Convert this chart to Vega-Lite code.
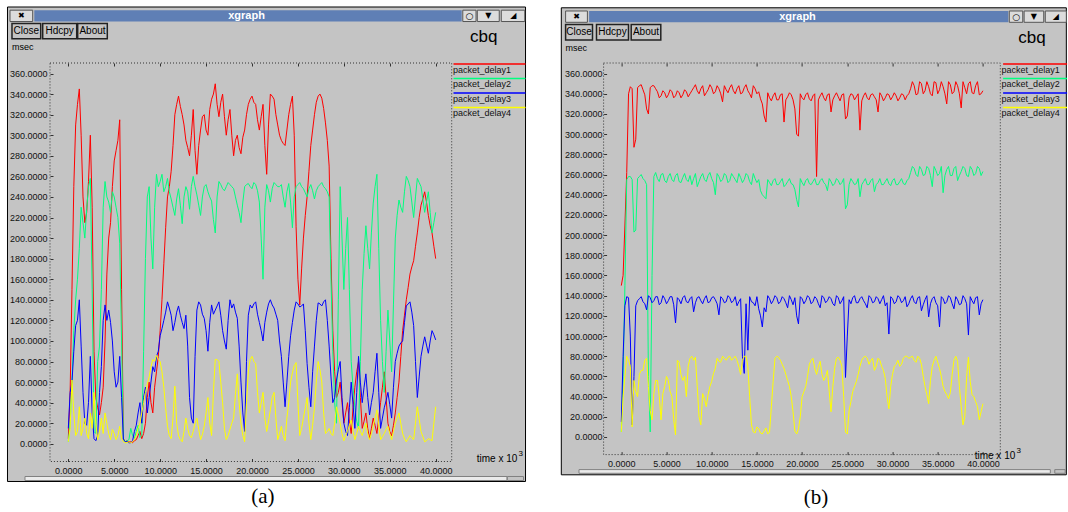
{
"$schema": "https://vega.github.io/schema/vega-lite/v6.json",
"background": "#ffffff",
"padding": {"left": 6, "top": 6, "right": 0, "bottom": 0},
"bounds": "flush",
"spacing": 151.6,
"config": {"font": "Liberation Sans Narrow, Liberation Sans, sans-serif", "view": {"stroke": null}},
"resolve": {"scale": {"x": "independent", "y": "independent", "color": "independent"}, "legend": {"color": "independent"}},
"datasets": {
"a": [
{"t":0.0,"packet_delay1":5,"packet_delay2":2,"packet_delay3":15,"packet_delay4":2},
{"t":0.4,"packet_delay1":150,"packet_delay2":60,"packet_delay3":60,"packet_delay4":62},
{"t":0.8,"packet_delay1":310,"packet_delay2":140,"packet_delay3":115,"packet_delay4":8},
{"t":1.2,"packet_delay1":345,"packet_delay2":190,"packet_delay3":140,"packet_delay4":36},
{"t":1.6,"packet_delay1":240,"packet_delay2":215,"packet_delay3":50,"packet_delay4":15},
{"t":2.0,"packet_delay1":225,"packet_delay2":228,"packet_delay3":18,"packet_delay4":10},
{"t":2.4,"packet_delay1":300,"packet_delay2":258,"packet_delay3":85,"packet_delay4":30},
{"t":2.8,"packet_delay1":90,"packet_delay2":12,"packet_delay3":5,"packet_delay4":50},
{"t":3.2,"packet_delay1":35,"packet_delay2":80,"packet_delay3":8,"packet_delay4":4},
{"t":3.6,"packet_delay1":40,"packet_delay2":150,"packet_delay3":75,"packet_delay4":25},
{"t":4.0,"packet_delay1":100,"packet_delay2":255,"packet_delay3":135,"packet_delay4":30},
{"t":4.4,"packet_delay1":200,"packet_delay2":235,"packet_delay3":130,"packet_delay4":10},
{"t":4.8,"packet_delay1":250,"packet_delay2":245,"packet_delay3":100,"packet_delay4":14},
{"t":5.2,"packet_delay1":285,"packet_delay2":230,"packet_delay3":55,"packet_delay4":4},
{"t":5.6,"packet_delay1":315,"packet_delay2":195,"packet_delay3":85,"packet_delay4":17},
{"t":6.0,"packet_delay1":5,"packet_delay2":5,"packet_delay3":4,"packet_delay4":2},
{"t":6.4,"packet_delay1":3,"packet_delay2":3,"packet_delay3":2,"packet_delay4":1},
{"t":6.8,"packet_delay1":2,"packet_delay2":15,"packet_delay3":1,"packet_delay4":1},
{"t":7.2,"packet_delay1":3,"packet_delay2":5,"packet_delay3":12,"packet_delay4":4},
{"t":7.6,"packet_delay1":8,"packet_delay2":18,"packet_delay3":30,"packet_delay4":15},
{"t":8.0,"packet_delay1":5,"packet_delay2":8,"packet_delay3":20,"packet_delay4":30},
{"t":8.4,"packet_delay1":20,"packet_delay2":180,"packet_delay3":55,"packet_delay4":50},
{"t":8.8,"packet_delay1":60,"packet_delay2":250,"packet_delay3":45,"packet_delay4":65},
{"t":9.2,"packet_delay1":30,"packet_delay2":170,"packet_delay3":75,"packet_delay4":82},
{"t":9.6,"packet_delay1":70,"packet_delay2":262,"packet_delay3":85,"packet_delay4":86},
{"t":10.0,"packet_delay1":110,"packet_delay2":255,"packet_delay3":105,"packet_delay4":80},
{"t":10.4,"packet_delay1":175,"packet_delay2":245,"packet_delay3":120,"packet_delay4":55},
{"t":10.8,"packet_delay1":240,"packet_delay2":258,"packet_delay3":138,"packet_delay4":17},
{"t":11.2,"packet_delay1":265,"packet_delay2":238,"packet_delay3":125,"packet_delay4":5},
{"t":11.6,"packet_delay1":320,"packet_delay2":222,"packet_delay3":118,"packet_delay4":56},
{"t":12.0,"packet_delay1":338,"packet_delay2":248,"packet_delay3":134,"packet_delay4":8},
{"t":12.4,"packet_delay1":320,"packet_delay2":214,"packet_delay3":118,"packet_delay4":2},
{"t":12.8,"packet_delay1":295,"packet_delay2":250,"packet_delay3":125,"packet_delay4":25},
{"t":13.2,"packet_delay1":280,"packet_delay2":228,"packet_delay3":45,"packet_delay4":8},
{"t":13.6,"packet_delay1":325,"packet_delay2":260,"packet_delay3":20,"packet_delay4":12},
{"t":14.0,"packet_delay1":262,"packet_delay2":242,"packet_delay3":130,"packet_delay4":25},
{"t":14.4,"packet_delay1":305,"packet_delay2":222,"packet_delay3":135,"packet_delay4":4},
{"t":14.8,"packet_delay1":320,"packet_delay2":250,"packet_delay3":122,"packet_delay4":17},
{"t":15.2,"packet_delay1":300,"packet_delay2":245,"packet_delay3":90,"packet_delay4":45},
{"t":15.6,"packet_delay1":335,"packet_delay2":236,"packet_delay3":135,"packet_delay4":8},
{"t":16.0,"packet_delay1":350,"packet_delay2":205,"packet_delay3":130,"packet_delay4":82},
{"t":16.4,"packet_delay1":318,"packet_delay2":255,"packet_delay3":138,"packet_delay4":80},
{"t":16.8,"packet_delay1":340,"packet_delay2":248,"packet_delay3":110,"packet_delay4":40},
{"t":17.2,"packet_delay1":300,"packet_delay2":250,"packet_delay3":92,"packet_delay4":4},
{"t":17.6,"packet_delay1":325,"packet_delay2":252,"packet_delay3":140,"packet_delay4":14},
{"t":18.0,"packet_delay1":280,"packet_delay2":248,"packet_delay3":136,"packet_delay4":25},
{"t":18.4,"packet_delay1":300,"packet_delay2":232,"packet_delay3":122,"packet_delay4":68},
{"t":18.8,"packet_delay1":282,"packet_delay2":215,"packet_delay3":60,"packet_delay4":20},
{"t":19.2,"packet_delay1":305,"packet_delay2":250,"packet_delay3":12,"packet_delay4":2},
{"t":19.6,"packet_delay1":330,"packet_delay2":253,"packet_delay3":125,"packet_delay4":70},
{"t":20.0,"packet_delay1":338,"packet_delay2":248,"packet_delay3":132,"packet_delay4":85},
{"t":20.4,"packet_delay1":330,"packet_delay2":252,"packet_delay3":138,"packet_delay4":78},
{"t":20.8,"packet_delay1":305,"packet_delay2":235,"packet_delay3":118,"packet_delay4":30},
{"t":21.2,"packet_delay1":330,"packet_delay2":160,"packet_delay3":100,"packet_delay4":50},
{"t":21.6,"packet_delay1":262,"packet_delay2":252,"packet_delay3":128,"packet_delay4":12},
{"t":22.0,"packet_delay1":340,"packet_delay2":235,"packet_delay3":140,"packet_delay4":33},
{"t":22.4,"packet_delay1":335,"packet_delay2":254,"packet_delay3":132,"packet_delay4":50},
{"t":22.8,"packet_delay1":310,"packet_delay2":250,"packet_delay3":120,"packet_delay4":4},
{"t":23.2,"packet_delay1":295,"packet_delay2":252,"packet_delay3":85,"packet_delay4":17},
{"t":23.6,"packet_delay1":290,"packet_delay2":230,"packet_delay3":36,"packet_delay4":3},
{"t":24.0,"packet_delay1":320,"packet_delay2":253,"packet_delay3":85,"packet_delay4":40},
{"t":24.4,"packet_delay1":338,"packet_delay2":210,"packet_delay3":118,"packet_delay4":69},
{"t":24.8,"packet_delay1":211,"packet_delay2":250,"packet_delay3":138,"packet_delay4":79},
{"t":25.2,"packet_delay1":135,"packet_delay2":254,"packet_delay3":133,"packet_delay4":8},
{"t":25.6,"packet_delay1":200,"packet_delay2":248,"packet_delay3":136,"packet_delay4":25},
{"t":26.0,"packet_delay1":240,"packet_delay2":240,"packet_delay3":78,"packet_delay4":45},
{"t":26.4,"packet_delay1":290,"packet_delay2":252,"packet_delay3":36,"packet_delay4":4},
{"t":26.8,"packet_delay1":320,"packet_delay2":238,"packet_delay3":95,"packet_delay4":35},
{"t":27.2,"packet_delay1":338,"packet_delay2":250,"packet_delay3":137,"packet_delay4":80},
{"t":27.6,"packet_delay1":336,"packet_delay2":254,"packet_delay3":134,"packet_delay4":60},
{"t":28.0,"packet_delay1":312,"packet_delay2":248,"packet_delay3":140,"packet_delay4":10},
{"t":28.4,"packet_delay1":270,"packet_delay2":240,"packet_delay3":95,"packet_delay4":15},
{"t":28.8,"packet_delay1":110,"packet_delay2":90,"packet_delay3":40,"packet_delay4":8},
{"t":29.2,"packet_delay1":45,"packet_delay2":20,"packet_delay3":62,"packet_delay4":36},
{"t":29.6,"packet_delay1":60,"packet_delay2":250,"packet_delay3":80,"packet_delay4":20},
{"t":30.0,"packet_delay1":20,"packet_delay2":150,"packet_delay3":20,"packet_delay4":3},
{"t":30.4,"packet_delay1":40,"packet_delay2":220,"packet_delay3":8,"packet_delay4":12},
{"t":30.8,"packet_delay1":10,"packet_delay2":80,"packet_delay3":60,"packet_delay4":23},
{"t":31.2,"packet_delay1":55,"packet_delay2":35,"packet_delay3":15,"packet_delay4":4},
{"t":31.6,"packet_delay1":80,"packet_delay2":15,"packet_delay3":85,"packet_delay4":17},
{"t":32.0,"packet_delay1":15,"packet_delay2":150,"packet_delay3":40,"packet_delay4":8},
{"t":32.4,"packet_delay1":30,"packet_delay2":212,"packet_delay3":68,"packet_delay4":20},
{"t":32.8,"packet_delay1":5,"packet_delay2":170,"packet_delay3":28,"packet_delay4":4},
{"t":33.2,"packet_delay1":25,"packet_delay2":234,"packet_delay3":50,"packet_delay4":17},
{"t":33.6,"packet_delay1":10,"packet_delay2":262,"packet_delay3":88,"packet_delay4":33},
{"t":34.0,"packet_delay1":40,"packet_delay2":120,"packet_delay3":15,"packet_delay4":4},
{"t":34.4,"packet_delay1":70,"packet_delay2":50,"packet_delay3":35,"packet_delay4":10},
{"t":34.8,"packet_delay1":20,"packet_delay2":130,"packet_delay3":50,"packet_delay4":17},
{"t":35.2,"packet_delay1":8,"packet_delay2":70,"packet_delay3":25,"packet_delay4":4},
{"t":35.6,"packet_delay1":30,"packet_delay2":200,"packet_delay3":80,"packet_delay4":20},
{"t":36.0,"packet_delay1":60,"packet_delay2":237,"packet_delay3":95,"packet_delay4":30},
{"t":36.4,"packet_delay1":110,"packet_delay2":225,"packet_delay3":100,"packet_delay4":10},
{"t":36.8,"packet_delay1":140,"packet_delay2":260,"packet_delay3":134,"packet_delay4":2},
{"t":37.2,"packet_delay1":165,"packet_delay2":250,"packet_delay3":138,"packet_delay4":8},
{"t":37.6,"packet_delay1":178,"packet_delay2":220,"packet_delay3":115,"packet_delay4":4},
{"t":38.0,"packet_delay1":205,"packet_delay2":258,"packet_delay3":45,"packet_delay4":36},
{"t":38.4,"packet_delay1":232,"packet_delay2":250,"packet_delay3":85,"packet_delay4":12},
{"t":38.8,"packet_delay1":245,"packet_delay2":225,"packet_delay3":104,"packet_delay4":2},
{"t":39.2,"packet_delay1":222,"packet_delay2":245,"packet_delay3":88,"packet_delay4":5},
{"t":39.6,"packet_delay1":205,"packet_delay2":205,"packet_delay3":110,"packet_delay4":3},
{"t":40.0,"packet_delay1":180,"packet_delay2":225,"packet_delay3":101,"packet_delay4":36},
{"t":0.2,"packet_delay1":50,"packet_delay2":20,"packet_delay3":50,"packet_delay4":15},
{"t":0.6,"packet_delay1":250,"packet_delay2":110,"packet_delay3":90,"packet_delay4":30},
{"t":1.0,"packet_delay1":330,"packet_delay2":160,"packet_delay3":120,"packet_delay4":12},
{"t":1.4,"packet_delay1":300,"packet_delay2":230,"packet_delay3":95,"packet_delay4":8},
{"t":1.8,"packet_delay1":215,"packet_delay2":200,"packet_delay3":20,"packet_delay4":25},
{"t":2.2,"packet_delay1":255,"packet_delay2":250,"packet_delay3":40,"packet_delay4":5},
{"t":2.6,"packet_delay1":230,"packet_delay2":150,"packet_delay3":30,"packet_delay4":15},
{"t":3.0,"packet_delay1":45,"packet_delay2":10,"packet_delay3":3,"packet_delay4":20},
{"t":3.4,"packet_delay1":28,"packet_delay2":95,"packet_delay3":50,"packet_delay4":12},
{"t":3.8,"packet_delay1":55,"packet_delay2":230,"packet_delay3":120,"packet_delay4":10},
{"t":4.2,"packet_delay1":165,"packet_delay2":240,"packet_delay3":120,"packet_delay4":20},
{"t":4.6,"packet_delay1":215,"packet_delay2":225,"packet_delay3":118,"packet_delay4":4},
{"t":5.0,"packet_delay1":275,"packet_delay2":240,"packet_delay3":70,"packet_delay4":10},
{"t":5.4,"packet_delay1":295,"packet_delay2":220,"packet_delay3":60,"packet_delay4":8},
{"t":5.8,"packet_delay1":150,"packet_delay2":100,"packet_delay3":45,"packet_delay4":5},
{"t":6.2,"packet_delay1":2,"packet_delay2":2,"packet_delay3":2,"packet_delay4":1},
{"t":6.6,"packet_delay1":2,"packet_delay2":4,"packet_delay3":1,"packet_delay4":2},
{"t":7.0,"packet_delay1":1,"packet_delay2":8,"packet_delay3":3,"packet_delay4":2},
{"t":7.4,"packet_delay1":4,"packet_delay2":12,"packet_delay3":18,"packet_delay4":8},
{"t":7.8,"packet_delay1":12,"packet_delay2":6,"packet_delay3":40,"packet_delay4":20},
{"t":8.2,"packet_delay1":10,"packet_delay2":90,"packet_delay3":45,"packet_delay4":40},
{"t":8.6,"packet_delay1":45,"packet_delay2":240,"packet_delay3":30,"packet_delay4":58},
{"t":9.0,"packet_delay1":40,"packet_delay2":200,"packet_delay3":60,"packet_delay4":75},
{"t":9.4,"packet_delay1":55,"packet_delay2":230,"packet_delay3":70,"packet_delay4":80},
{"t":9.8,"packet_delay1":85,"packet_delay2":250,"packet_delay3":90,"packet_delay4":82},
{"t":10.2,"packet_delay1":140,"packet_delay2":262,"packet_delay3":112,"packet_delay4":70},
{"t":10.6,"packet_delay1":210,"packet_delay2":250,"packet_delay3":128,"packet_delay4":35},
{"t":11.0,"packet_delay1":250,"packet_delay2":245,"packet_delay3":132,"packet_delay4":8},
{"t":11.4,"packet_delay1":290,"packet_delay2":230,"packet_delay3":110,"packet_delay4":25},
{"t":11.8,"packet_delay1":330,"packet_delay2":238,"packet_delay3":128,"packet_delay4":20},
{"t":12.2,"packet_delay1":328,"packet_delay2":232,"packet_delay3":125,"packet_delay4":4},
{"t":12.6,"packet_delay1":310,"packet_delay2":240,"packet_delay3":112,"packet_delay4":12},
{"t":13.0,"packet_delay1":288,"packet_delay2":245,"packet_delay3":95,"packet_delay4":15},
{"t":13.4,"packet_delay1":300,"packet_delay2":250,"packet_delay3":25,"packet_delay4":6},
{"t":13.8,"packet_delay1":285,"packet_delay2":250,"packet_delay3":85,"packet_delay4":20},
{"t":14.2,"packet_delay1":290,"packet_delay2":232,"packet_delay3":138,"packet_delay4":14},
{"t":14.6,"packet_delay1":318,"packet_delay2":240,"packet_delay3":126,"packet_delay4":9},
{"t":15.0,"packet_delay1":305,"packet_delay2":252,"packet_delay3":110,"packet_delay4":30},
{"t":15.4,"packet_delay1":325,"packet_delay2":240,"packet_delay3":118,"packet_delay4":20},
{"t":15.8,"packet_delay1":340,"packet_delay2":218,"packet_delay3":126,"packet_delay4":50},
{"t":16.2,"packet_delay1":330,"packet_delay2":240,"packet_delay3":134,"packet_delay4":82},
{"t":16.6,"packet_delay1":332,"packet_delay2":252,"packet_delay3":125,"packet_delay4":60},
{"t":17.0,"packet_delay1":318,"packet_delay2":246,"packet_delay3":100,"packet_delay4":15},
{"t":17.4,"packet_delay1":315,"packet_delay2":254,"packet_delay3":120,"packet_delay4":8},
{"t":17.8,"packet_delay1":300,"packet_delay2":250,"packet_delay3":132,"packet_delay4":20},
{"t":18.2,"packet_delay1":295,"packet_delay2":240,"packet_delay3":128,"packet_delay4":48},
{"t":18.6,"packet_delay1":288,"packet_delay2":225,"packet_delay3":95,"packet_delay4":40},
{"t":19.0,"packet_delay1":298,"packet_delay2":235,"packet_delay3":30,"packet_delay4":8},
{"t":19.4,"packet_delay1":320,"packet_delay2":252,"packet_delay3":80,"packet_delay4":40},
{"t":19.8,"packet_delay1":335,"packet_delay2":250,"packet_delay3":135,"packet_delay4":82},
{"t":20.2,"packet_delay1":332,"packet_delay2":254,"packet_delay3":136,"packet_delay4":80},
{"t":20.6,"packet_delay1":315,"packet_delay2":246,"packet_delay3":126,"packet_delay4":50},
{"t":21.0,"packet_delay1":318,"packet_delay2":200,"packet_delay3":110,"packet_delay4":40},
{"t":21.4,"packet_delay1":290,"packet_delay2":230,"packet_delay3":118,"packet_delay4":25},
{"t":21.8,"packet_delay1":310,"packet_delay2":246,"packet_delay3":136,"packet_delay4":22},
{"t":22.2,"packet_delay1":338,"packet_delay2":248,"packet_delay3":135,"packet_delay4":45},
{"t":22.6,"packet_delay1":320,"packet_delay2":252,"packet_delay3":126,"packet_delay4":25},
{"t":23.0,"packet_delay1":300,"packet_delay2":250,"packet_delay3":100,"packet_delay4":10},
{"t":23.4,"packet_delay1":292,"packet_delay2":240,"packet_delay3":60,"packet_delay4":8},
{"t":23.8,"packet_delay1":305,"packet_delay2":245,"packet_delay3":60,"packet_delay4":25},
{"t":24.2,"packet_delay1":330,"packet_delay2":235,"packet_delay3":105,"packet_delay4":60},
{"t":24.6,"packet_delay1":300,"packet_delay2":240,"packet_delay3":130,"packet_delay4":76},
{"t":25.0,"packet_delay1":160,"packet_delay2":252,"packet_delay3":136,"packet_delay4":40},
{"t":25.4,"packet_delay1":170,"packet_delay2":250,"packet_delay3":134,"packet_delay4":15},
{"t":25.8,"packet_delay1":222,"packet_delay2":244,"packet_delay3":110,"packet_delay4":35},
{"t":26.2,"packet_delay1":265,"packet_delay2":248,"packet_delay3":55,"packet_delay4":20},
{"t":26.6,"packet_delay1":305,"packet_delay2":246,"packet_delay3":70,"packet_delay4":18},
{"t":27.0,"packet_delay1":332,"packet_delay2":246,"packet_delay3":120,"packet_delay4":60},
{"t":27.4,"packet_delay1":340,"packet_delay2":252,"packet_delay3":136,"packet_delay4":72},
{"t":27.8,"packet_delay1":326,"packet_delay2":250,"packet_delay3":138,"packet_delay4":30},
{"t":28.2,"packet_delay1":295,"packet_delay2":245,"packet_delay3":120,"packet_delay4":12},
{"t":28.6,"packet_delay1":180,"packet_delay2":160,"packet_delay3":65,"packet_delay4":10},
{"t":29.0,"packet_delay1":70,"packet_delay2":40,"packet_delay3":45,"packet_delay4":20},
{"t":29.4,"packet_delay1":50,"packet_delay2":140,"packet_delay3":72,"packet_delay4":28},
{"t":29.8,"packet_delay1":40,"packet_delay2":200,"packet_delay3":45,"packet_delay4":10},
{"t":30.2,"packet_delay1":30,"packet_delay2":190,"packet_delay3":12,"packet_delay4":8},
{"t":30.6,"packet_delay1":22,"packet_delay2":150,"packet_delay3":35,"packet_delay4":18},
{"t":31.0,"packet_delay1":35,"packet_delay2":55,"packet_delay3":38,"packet_delay4":12},
{"t":31.4,"packet_delay1":70,"packet_delay2":22,"packet_delay3":50,"packet_delay4":10},
{"t":31.8,"packet_delay1":45,"packet_delay2":80,"packet_delay3":60,"packet_delay4":12},
{"t":32.2,"packet_delay1":22,"packet_delay2":185,"packet_delay3":55,"packet_delay4":14},
{"t":32.6,"packet_delay1":15,"packet_delay2":190,"packet_delay3":45,"packet_delay4":10},
{"t":33.0,"packet_delay1":15,"packet_delay2":205,"packet_delay3":40,"packet_delay4":10},
{"t":33.4,"packet_delay1":18,"packet_delay2":250,"packet_delay3":70,"packet_delay4":25},
{"t":33.8,"packet_delay1":25,"packet_delay2":190,"packet_delay3":50,"packet_delay4":18},
{"t":34.2,"packet_delay1":55,"packet_delay2":80,"packet_delay3":25,"packet_delay4":7},
{"t":34.6,"packet_delay1":45,"packet_delay2":90,"packet_delay3":42,"packet_delay4":14},
{"t":35.0,"packet_delay1":12,"packet_delay2":100,"packet_delay3":38,"packet_delay4":10},
{"t":35.4,"packet_delay1":18,"packet_delay2":135,"packet_delay3":55,"packet_delay4":12},
{"t":35.8,"packet_delay1":45,"packet_delay2":222,"packet_delay3":88,"packet_delay4":25},
{"t":36.2,"packet_delay1":85,"packet_delay2":230,"packet_delay3":98,"packet_delay4":20},
{"t":36.6,"packet_delay1":125,"packet_delay2":245,"packet_delay3":118,"packet_delay4":5},
{"t":37.0,"packet_delay1":152,"packet_delay2":256,"packet_delay3":136,"packet_delay4":5},
{"t":37.4,"packet_delay1":172,"packet_delay2":235,"packet_delay3":128,"packet_delay4":6},
{"t":37.8,"packet_delay1":192,"packet_delay2":240,"packet_delay3":80,"packet_delay4":20},
{"t":38.2,"packet_delay1":220,"packet_delay2":254,"packet_delay3":65,"packet_delay4":24},
{"t":38.6,"packet_delay1":238,"packet_delay2":238,"packet_delay3":95,"packet_delay4":7},
{"t":39.0,"packet_delay1":235,"packet_delay2":235,"packet_delay3":96,"packet_delay4":3},
{"t":39.4,"packet_delay1":212,"packet_delay2":225,"packet_delay3":100,"packet_delay4":4},
{"t":39.8,"packet_delay1":192,"packet_delay2":215,"packet_delay3":106,"packet_delay4":20}
],
"b": [
{"t":0.0,"packet_delay1":150,"packet_delay2":5,"packet_delay3":15,"packet_delay4":5},
{"t":0.4,"packet_delay1":210,"packet_delay2":150,"packet_delay3":130,"packet_delay4":60},
{"t":0.8,"packet_delay1":340,"packet_delay2":258,"packet_delay3":138,"packet_delay4":76},
{"t":1.2,"packet_delay1":345,"packet_delay2":255,"packet_delay3":12,"packet_delay4":10},
{"t":1.6,"packet_delay1":295,"packet_delay2":205,"packet_delay3":130,"packet_delay4":45},
{"t":2.0,"packet_delay1":348,"packet_delay2":258,"packet_delay3":137,"packet_delay4":62},
{"t":2.4,"packet_delay1":344,"packet_delay2":256,"packet_delay3":134,"packet_delay4":66},
{"t":2.8,"packet_delay1":325,"packet_delay2":250,"packet_delay3":126,"packet_delay4":78},
{"t":3.2,"packet_delay1":346,"packet_delay2":5,"packet_delay3":138,"packet_delay4":26},
{"t":3.6,"packet_delay1":348,"packet_delay2":258,"packet_delay3":135,"packet_delay4":43},
{"t":4.0,"packet_delay1":342,"packet_delay2":256,"packet_delay3":139,"packet_delay4":56},
{"t":4.4,"packet_delay1":338,"packet_delay2":260,"packet_delay3":133,"packet_delay4":17},
{"t":4.8,"packet_delay1":341,"packet_delay2":254,"packet_delay3":137,"packet_delay4":50},
{"t":5.2,"packet_delay1":339,"packet_delay2":258,"packet_delay3":135,"packet_delay4":56},
{"t":5.6,"packet_delay1":342,"packet_delay2":255,"packet_delay3":139,"packet_delay4":40},
{"t":6.0,"packet_delay1":338,"packet_delay2":259,"packet_delay3":113,"packet_delay4":2},
{"t":6.4,"packet_delay1":341,"packet_delay2":253,"packet_delay3":136,"packet_delay4":74},
{"t":6.8,"packet_delay1":339,"packet_delay2":257,"packet_delay3":138,"packet_delay4":56},
{"t":7.2,"packet_delay1":342,"packet_delay2":255,"packet_delay3":134,"packet_delay4":40},
{"t":7.6,"packet_delay1":340,"packet_delay2":259,"packet_delay3":137,"packet_delay4":78},
{"t":8.0,"packet_delay1":346,"packet_delay2":256,"packet_delay3":124,"packet_delay4":76},
{"t":8.4,"packet_delay1":343,"packet_delay2":248,"packet_delay3":138,"packet_delay4":50},
{"t":8.8,"packet_delay1":345,"packet_delay2":258,"packet_delay3":135,"packet_delay4":12},
{"t":9.2,"packet_delay1":338,"packet_delay2":255,"packet_delay3":137,"packet_delay4":38},
{"t":9.6,"packet_delay1":344,"packet_delay2":259,"packet_delay3":133,"packet_delay4":42},
{"t":10.0,"packet_delay1":346,"packet_delay2":256,"packet_delay3":138,"packet_delay4":55},
{"t":10.4,"packet_delay1":342,"packet_delay2":240,"packet_delay3":136,"packet_delay4":68},
{"t":10.8,"packet_delay1":345,"packet_delay2":258,"packet_delay3":121,"packet_delay4":75},
{"t":11.2,"packet_delay1":332,"packet_delay2":255,"packet_delay3":137,"packet_delay4":80},
{"t":11.6,"packet_delay1":344,"packet_delay2":259,"packet_delay3":134,"packet_delay4":76},
{"t":12.0,"packet_delay1":346,"packet_delay2":254,"packet_delay3":138,"packet_delay4":80},
{"t":12.4,"packet_delay1":343,"packet_delay2":258,"packet_delay3":135,"packet_delay4":78},
{"t":12.8,"packet_delay1":345,"packet_delay2":252,"packet_delay3":130,"packet_delay4":76},
{"t":13.2,"packet_delay1":340,"packet_delay2":257,"packet_delay3":137,"packet_delay4":62},
{"t":13.6,"packet_delay1":346,"packet_delay2":255,"packet_delay3":63,"packet_delay4":80},
{"t":14.0,"packet_delay1":343,"packet_delay2":259,"packet_delay3":86,"packet_delay4":70},
{"t":14.4,"packet_delay1":336,"packet_delay2":250,"packet_delay3":134,"packet_delay4":12},
{"t":14.8,"packet_delay1":345,"packet_delay2":256,"packet_delay3":130,"packet_delay4":4},
{"t":15.2,"packet_delay1":342,"packet_delay2":255,"packet_delay3":127,"packet_delay4":8},
{"t":15.6,"packet_delay1":330,"packet_delay2":240,"packet_delay3":109,"packet_delay4":3},
{"t":16.0,"packet_delay1":312,"packet_delay2":236,"packet_delay3":124,"packet_delay4":9},
{"t":16.4,"packet_delay1":336,"packet_delay2":252,"packet_delay3":137,"packet_delay4":5},
{"t":16.8,"packet_delay1":338,"packet_delay2":254,"packet_delay3":135,"packet_delay4":55},
{"t":17.2,"packet_delay1":334,"packet_delay2":250,"packet_delay3":138,"packet_delay4":80},
{"t":17.6,"packet_delay1":339,"packet_delay2":253,"packet_delay3":134,"packet_delay4":76},
{"t":18.0,"packet_delay1":312,"packet_delay2":248,"packet_delay3":137,"packet_delay4":68},
{"t":18.4,"packet_delay1":337,"packet_delay2":253,"packet_delay3":128,"packet_delay4":56},
{"t":18.8,"packet_delay1":339,"packet_delay2":251,"packet_delay3":136,"packet_delay4":40},
{"t":19.2,"packet_delay1":325,"packet_delay2":245,"packet_delay3":138,"packet_delay4":6},
{"t":19.6,"packet_delay1":298,"packet_delay2":228,"packet_delay3":112,"packet_delay4":8},
{"t":20.0,"packet_delay1":336,"packet_delay2":252,"packet_delay3":137,"packet_delay4":40},
{"t":20.4,"packet_delay1":339,"packet_delay2":254,"packet_delay3":135,"packet_delay4":50},
{"t":20.8,"packet_delay1":335,"packet_delay2":251,"packet_delay3":138,"packet_delay4":72},
{"t":21.2,"packet_delay1":338,"packet_delay2":253,"packet_delay3":134,"packet_delay4":78},
{"t":21.6,"packet_delay1":258,"packet_delay2":250,"packet_delay3":137,"packet_delay4":62},
{"t":22.0,"packet_delay1":338,"packet_delay2":254,"packet_delay3":128,"packet_delay4":75},
{"t":22.4,"packet_delay1":336,"packet_delay2":252,"packet_delay3":138,"packet_delay4":56},
{"t":22.8,"packet_delay1":339,"packet_delay2":244,"packet_delay3":135,"packet_delay4":66},
{"t":23.2,"packet_delay1":322,"packet_delay2":253,"packet_delay3":137,"packet_delay4":25},
{"t":23.6,"packet_delay1":338,"packet_delay2":251,"packet_delay3":130,"packet_delay4":68},
{"t":24.0,"packet_delay1":337,"packet_delay2":254,"packet_delay3":138,"packet_delay4":79},
{"t":24.4,"packet_delay1":339,"packet_delay2":252,"packet_delay3":135,"packet_delay4":70},
{"t":24.8,"packet_delay1":315,"packet_delay2":226,"packet_delay3":59,"packet_delay4":5},
{"t":25.2,"packet_delay1":336,"packet_delay2":250,"packet_delay3":136,"packet_delay4":26},
{"t":25.6,"packet_delay1":339,"packet_delay2":253,"packet_delay3":138,"packet_delay4":45},
{"t":26.0,"packet_delay1":337,"packet_delay2":251,"packet_delay3":133,"packet_delay4":55},
{"t":26.4,"packet_delay1":304,"packet_delay2":238,"packet_delay3":137,"packet_delay4":70},
{"t":26.8,"packet_delay1":338,"packet_delay2":253,"packet_delay3":135,"packet_delay4":79},
{"t":27.2,"packet_delay1":336,"packet_delay2":250,"packet_delay3":128,"packet_delay4":78},
{"t":27.6,"packet_delay1":339,"packet_delay2":254,"packet_delay3":138,"packet_delay4":76},
{"t":28.0,"packet_delay1":337,"packet_delay2":243,"packet_delay3":134,"packet_delay4":66},
{"t":28.4,"packet_delay1":322,"packet_delay2":252,"packet_delay3":137,"packet_delay4":78},
{"t":28.8,"packet_delay1":338,"packet_delay2":250,"packet_delay3":136,"packet_delay4":70},
{"t":29.2,"packet_delay1":336,"packet_delay2":253,"packet_delay3":130,"packet_delay4":58},
{"t":29.6,"packet_delay1":339,"packet_delay2":251,"packet_delay3":102,"packet_delay4":28},
{"t":30.0,"packet_delay1":337,"packet_delay2":254,"packet_delay3":137,"packet_delay4":62},
{"t":30.4,"packet_delay1":338,"packet_delay2":250,"packet_delay3":134,"packet_delay4":72},
{"t":30.8,"packet_delay1":336,"packet_delay2":253,"packet_delay3":138,"packet_delay4":70},
{"t":31.2,"packet_delay1":339,"packet_delay2":251,"packet_delay3":135,"packet_delay4":78},
{"t":31.6,"packet_delay1":338,"packet_delay2":254,"packet_delay3":129,"packet_delay4":80},
{"t":32.0,"packet_delay1":345,"packet_delay2":262,"packet_delay3":137,"packet_delay4":79},
{"t":32.4,"packet_delay1":348,"packet_delay2":266,"packet_delay3":134,"packet_delay4":76},
{"t":32.8,"packet_delay1":340,"packet_delay2":258,"packet_delay3":138,"packet_delay4":80},
{"t":33.2,"packet_delay1":350,"packet_delay2":265,"packet_delay3":125,"packet_delay4":72},
{"t":33.6,"packet_delay1":343,"packet_delay2":260,"packet_delay3":136,"packet_delay4":50},
{"t":34.0,"packet_delay1":347,"packet_delay2":266,"packet_delay3":119,"packet_delay4":33},
{"t":34.4,"packet_delay1":338,"packet_delay2":248,"packet_delay3":137,"packet_delay4":70},
{"t":34.8,"packet_delay1":351,"packet_delay2":264,"packet_delay3":133,"packet_delay4":80},
{"t":35.2,"packet_delay1":344,"packet_delay2":261,"packet_delay3":109,"packet_delay4":68},
{"t":35.6,"packet_delay1":347,"packet_delay2":242,"packet_delay3":137,"packet_delay4":50},
{"t":36.0,"packet_delay1":330,"packet_delay2":265,"packet_delay3":134,"packet_delay4":42},
{"t":36.4,"packet_delay1":349,"packet_delay2":259,"packet_delay3":138,"packet_delay4":44},
{"t":36.8,"packet_delay1":342,"packet_delay2":266,"packet_delay3":127,"packet_delay4":76},
{"t":37.2,"packet_delay1":348,"packet_delay2":254,"packet_delay3":136,"packet_delay4":75},
{"t":37.6,"packet_delay1":326,"packet_delay2":263,"packet_delay3":132,"packet_delay4":30},
{"t":38.0,"packet_delay1":346,"packet_delay2":266,"packet_delay3":137,"packet_delay4":20},
{"t":38.4,"packet_delay1":350,"packet_delay2":258,"packet_delay3":101,"packet_delay4":79},
{"t":38.8,"packet_delay1":341,"packet_delay2":265,"packet_delay3":135,"packet_delay4":42},
{"t":39.2,"packet_delay1":348,"packet_delay2":261,"packet_delay3":138,"packet_delay4":35},
{"t":39.6,"packet_delay1":339,"packet_delay2":266,"packet_delay3":121,"packet_delay4":17},
{"t":40.0,"packet_delay1":343,"packet_delay2":263,"packet_delay3":136,"packet_delay4":33},
{"t":0.2,"packet_delay1":160,"packet_delay2":60,"packet_delay3":80,"packet_delay4":40},
{"t":0.6,"packet_delay1":262,"packet_delay2":255,"packet_delay3":139,"packet_delay4":80},
{"t":1.0,"packet_delay1":347,"packet_delay2":258,"packet_delay3":100,"packet_delay4":70},
{"t":1.4,"packet_delay1":287,"packet_delay2":203,"packet_delay3":60,"packet_delay4":56},
{"t":1.8,"packet_delay1":346,"packet_delay2":256,"packet_delay3":135,"packet_delay4":40},
{"t":2.2,"packet_delay1":349,"packet_delay2":260,"packet_delay3":139,"packet_delay4":66},
{"t":2.6,"packet_delay1":339,"packet_delay2":254,"packet_delay3":132,"packet_delay4":76},
{"t":3.0,"packet_delay1":320,"packet_delay2":60,"packet_delay3":140,"packet_delay4":50},
{"t":3.4,"packet_delay1":348,"packet_delay2":160,"packet_delay3":133,"packet_delay4":17},
{"t":3.8,"packet_delay1":345,"packet_delay2":262,"packet_delay3":139,"packet_delay4":56},
{"t":4.2,"packet_delay1":336,"packet_delay2":253,"packet_delay3":131,"packet_delay4":40},
{"t":4.6,"packet_delay1":343,"packet_delay2":261,"packet_delay3":140,"packet_delay4":43},
{"t":5.0,"packet_delay1":336,"packet_delay2":252,"packet_delay3":132,"packet_delay4":60},
{"t":5.4,"packet_delay1":344,"packet_delay2":261,"packet_delay3":139,"packet_delay4":45},
{"t":5.8,"packet_delay1":336,"packet_delay2":253,"packet_delay3":131,"packet_delay4":17},
{"t":6.2,"packet_delay1":343,"packet_delay2":261,"packet_delay3":138,"packet_delay4":76},
{"t":6.6,"packet_delay1":336,"packet_delay2":252,"packet_delay3":132,"packet_delay4":62},
{"t":7.0,"packet_delay1":344,"packet_delay2":261,"packet_delay3":140,"packet_delay4":60},
{"t":7.4,"packet_delay1":337,"packet_delay2":253,"packet_delay3":133,"packet_delay4":70},
{"t":7.8,"packet_delay1":343,"packet_delay2":250,"packet_delay3":139,"packet_delay4":80},
{"t":8.2,"packet_delay1":349,"packet_delay2":261,"packet_delay3":133,"packet_delay4":79},
{"t":8.6,"packet_delay1":340,"packet_delay2":253,"packet_delay3":139,"packet_delay4":20},
{"t":9.0,"packet_delay1":348,"packet_delay2":261,"packet_delay3":132,"packet_delay4":43},
{"t":9.4,"packet_delay1":341,"packet_delay2":253,"packet_delay3":140,"packet_delay4":30},
{"t":9.8,"packet_delay1":349,"packet_delay2":262,"packet_delay3":134,"packet_delay4":50},
{"t":10.2,"packet_delay1":340,"packet_delay2":252,"packet_delay3":139,"packet_delay4":63},
{"t":10.6,"packet_delay1":348,"packet_delay2":261,"packet_delay3":132,"packet_delay4":78},
{"t":11.0,"packet_delay1":340,"packet_delay2":253,"packet_delay3":139,"packet_delay4":74},
{"t":11.4,"packet_delay1":348,"packet_delay2":261,"packet_delay3":133,"packet_delay4":78},
{"t":11.8,"packet_delay1":341,"packet_delay2":252,"packet_delay3":140,"packet_delay4":79},
{"t":12.2,"packet_delay1":349,"packet_delay2":261,"packet_delay3":133,"packet_delay4":76},
{"t":12.6,"packet_delay1":340,"packet_delay2":255,"packet_delay3":139,"packet_delay4":80},
{"t":13.0,"packet_delay1":348,"packet_delay2":261,"packet_delay3":134,"packet_delay4":70},
{"t":13.4,"packet_delay1":341,"packet_delay2":252,"packet_delay3":80,"packet_delay4":76},
{"t":13.8,"packet_delay1":349,"packet_delay2":261,"packet_delay3":132,"packet_delay4":80},
{"t":14.2,"packet_delay1":340,"packet_delay2":253,"packet_delay3":139,"packet_delay4":40},
{"t":14.6,"packet_delay1":348,"packet_delay2":261,"packet_delay3":133,"packet_delay4":5},
{"t":15.0,"packet_delay1":340,"packet_delay2":252,"packet_delay3":139,"packet_delay4":10},
{"t":15.4,"packet_delay1":335,"packet_delay2":244,"packet_delay3":120,"packet_delay4":4},
{"t":15.8,"packet_delay1":318,"packet_delay2":238,"packet_delay3":128,"packet_delay4":6},
{"t":16.2,"packet_delay1":341,"packet_delay2":255,"packet_delay3":140,"packet_delay4":3},
{"t":16.6,"packet_delay1":333,"packet_delay2":249,"packet_delay3":132,"packet_delay4":30},
{"t":17.0,"packet_delay1":341,"packet_delay2":256,"packet_delay3":140,"packet_delay4":78},
{"t":17.4,"packet_delay1":334,"packet_delay2":250,"packet_delay3":132,"packet_delay4":79},
{"t":17.8,"packet_delay1":340,"packet_delay2":256,"packet_delay3":139,"packet_delay4":72},
{"t":18.2,"packet_delay1":334,"packet_delay2":250,"packet_delay3":133,"packet_delay4":62},
{"t":18.6,"packet_delay1":341,"packet_delay2":256,"packet_delay3":140,"packet_delay4":50},
{"t":19.0,"packet_delay1":334,"packet_delay2":250,"packet_delay3":131,"packet_delay4":25},
{"t":19.4,"packet_delay1":300,"packet_delay2":235,"packet_delay3":120,"packet_delay4":3},
{"t":19.8,"packet_delay1":340,"packet_delay2":256,"packet_delay3":139,"packet_delay4":20},
{"t":20.2,"packet_delay1":334,"packet_delay2":249,"packet_delay3":132,"packet_delay4":45},
{"t":20.6,"packet_delay1":341,"packet_delay2":256,"packet_delay3":140,"packet_delay4":60},
{"t":21.0,"packet_delay1":333,"packet_delay2":250,"packet_delay3":132,"packet_delay4":76},
{"t":21.4,"packet_delay1":340,"packet_delay2":256,"packet_delay3":139,"packet_delay4":68},
{"t":21.8,"packet_delay1":334,"packet_delay2":250,"packet_delay3":132,"packet_delay4":70},
{"t":22.2,"packet_delay1":341,"packet_delay2":256,"packet_delay3":140,"packet_delay4":62},
{"t":22.6,"packet_delay1":333,"packet_delay2":250,"packet_delay3":133,"packet_delay4":60},
{"t":23.0,"packet_delay1":340,"packet_delay2":256,"packet_delay3":139,"packet_delay4":45},
{"t":23.4,"packet_delay1":334,"packet_delay2":249,"packet_delay3":132,"packet_delay4":50},
{"t":23.8,"packet_delay1":341,"packet_delay2":256,"packet_delay3":140,"packet_delay4":78},
{"t":24.2,"packet_delay1":333,"packet_delay2":250,"packet_delay3":132,"packet_delay4":76},
{"t":24.6,"packet_delay1":340,"packet_delay2":256,"packet_delay3":139,"packet_delay4":40},
{"t":25.0,"packet_delay1":318,"packet_delay2":230,"packet_delay3":100,"packet_delay4":3},
{"t":25.4,"packet_delay1":340,"packet_delay2":256,"packet_delay3":132,"packet_delay4":35},
{"t":25.8,"packet_delay1":334,"packet_delay2":250,"packet_delay3":140,"packet_delay4":50},
{"t":26.2,"packet_delay1":340,"packet_delay2":256,"packet_delay3":133,"packet_delay4":62},
{"t":26.6,"packet_delay1":333,"packet_delay2":250,"packet_delay3":139,"packet_delay4":76},
{"t":27.0,"packet_delay1":341,"packet_delay2":256,"packet_delay3":132,"packet_delay4":80},
{"t":27.4,"packet_delay1":334,"packet_delay2":250,"packet_delay3":140,"packet_delay4":72},
{"t":27.8,"packet_delay1":340,"packet_delay2":256,"packet_delay3":133,"packet_delay4":78},
{"t":28.2,"packet_delay1":334,"packet_delay2":250,"packet_delay3":139,"packet_delay4":70},
{"t":28.6,"packet_delay1":341,"packet_delay2":256,"packet_delay3":132,"packet_delay4":76},
{"t":29.0,"packet_delay1":333,"packet_delay2":250,"packet_delay3":140,"packet_delay4":66},
{"t":29.4,"packet_delay1":340,"packet_delay2":256,"packet_delay3":133,"packet_delay4":40},
{"t":29.8,"packet_delay1":334,"packet_delay2":249,"packet_delay3":139,"packet_delay4":50},
{"t":30.2,"packet_delay1":341,"packet_delay2":256,"packet_delay3":132,"packet_delay4":70},
{"t":30.6,"packet_delay1":333,"packet_delay2":250,"packet_delay3":140,"packet_delay4":76},
{"t":31.0,"packet_delay1":340,"packet_delay2":256,"packet_delay3":133,"packet_delay4":72},
{"t":31.4,"packet_delay1":334,"packet_delay2":250,"packet_delay3":139,"packet_delay4":80},
{"t":31.8,"packet_delay1":340,"packet_delay2":256,"packet_delay3":132,"packet_delay4":78},
{"t":32.2,"packet_delay1":352,"packet_delay2":268,"packet_delay3":140,"packet_delay4":80},
{"t":32.6,"packet_delay1":339,"packet_delay2":260,"packet_delay3":132,"packet_delay4":74},
{"t":33.0,"packet_delay1":352,"packet_delay2":268,"packet_delay3":139,"packet_delay4":78},
{"t":33.4,"packet_delay1":340,"packet_delay2":259,"packet_delay3":131,"packet_delay4":60},
{"t":33.8,"packet_delay1":352,"packet_delay2":268,"packet_delay3":140,"packet_delay4":42},
{"t":34.2,"packet_delay1":340,"packet_delay2":259,"packet_delay3":132,"packet_delay4":56},
{"t":34.6,"packet_delay1":352,"packet_delay2":268,"packet_delay3":139,"packet_delay4":76},
{"t":35.0,"packet_delay1":340,"packet_delay2":259,"packet_delay3":130,"packet_delay4":74},
{"t":35.4,"packet_delay1":352,"packet_delay2":268,"packet_delay3":139,"packet_delay4":60},
{"t":35.8,"packet_delay1":340,"packet_delay2":259,"packet_delay3":132,"packet_delay4":45},
{"t":36.2,"packet_delay1":352,"packet_delay2":268,"packet_delay3":140,"packet_delay4":38},
{"t":36.6,"packet_delay1":340,"packet_delay2":259,"packet_delay3":132,"packet_delay4":62},
{"t":37.0,"packet_delay1":352,"packet_delay2":268,"packet_delay3":139,"packet_delay4":80},
{"t":37.4,"packet_delay1":340,"packet_delay2":259,"packet_delay3":131,"packet_delay4":50},
{"t":37.8,"packet_delay1":352,"packet_delay2":268,"packet_delay3":140,"packet_delay4":12},
{"t":38.2,"packet_delay1":340,"packet_delay2":259,"packet_delay3":132,"packet_delay4":60},
{"t":38.6,"packet_delay1":352,"packet_delay2":268,"packet_delay3":139,"packet_delay4":55},
{"t":39.0,"packet_delay1":340,"packet_delay2":259,"packet_delay3":132,"packet_delay4":40},
{"t":39.4,"packet_delay1":352,"packet_delay2":268,"packet_delay3":139,"packet_delay4":30},
{"t":39.8,"packet_delay1":340,"packet_delay2":259,"packet_delay3":132,"packet_delay4":25}
]
},
"hconcat": [
{
"width": 401.7, "height": 398.5,
"data": {"values": [{}]},
"title": {"text": "(a)", "orient": "bottom", "frame": "group", "anchor": "middle", "offset": 4, "dx": 12, "font": "Liberation Serif", "fontSize": 21, "fontWeight": "normal", "color": "#000"},
"resolve": {"axis": {"x": "independent", "y": "independent"}},
"layer": [
{"mark": {"type": "rect", "fill": "#c4c4c4", "stroke": "#000", "strokeWidth": 1},
 "encoding": {"x": {"datum": -6.62, "type": "quantitative", "scale": {"domain": [-1.992, 41.742], "nice": false, "zero": false}, "axis": null}, "x2": {"datum": 49.78},
  "y": {"datum": 424.65, "type": "quantitative", "scale": {"domain": [-17.21, 370.21], "nice": false, "zero": false}, "axis": null}, "y2": {"datum": -36.65}}},
{"mark": {"type": "rect", "fill": "#5f7fb5"}, "encoding": {"x": {"datum": -3.702, "axis": null}, "x2": {"datum": 42.83}, "y": {"datum": 421.56, "axis": null}, "y2": {"datum": 410.54}}},
{"mark": {"type": "rect", "fill": "#dcdcdc", "stroke": "#555", "strokeWidth": 1}, "encoding": {"x": {"datum": -6.347, "axis": null}, "x2": {"datum": -3.876}, "y": {"datum": 421.56, "axis": null}, "y2": {"datum": 410.54}}},
{"mark": {"type": "rect", "fill": "#dcdcdc", "stroke": "#555", "strokeWidth": 1}, "encoding": {"x": {"datum": 42.95, "axis": null}, "x2": {"datum": 44.39}, "y": {"datum": 421.56, "axis": null}, "y2": {"datum": 410.54}}},
{"mark": {"type": "rect", "fill": "#dcdcdc", "stroke": "#555", "strokeWidth": 1}, "encoding": {"x": {"datum": 44.53, "axis": null}, "x2": {"datum": 46.92}, "y": {"datum": 421.56, "axis": null}, "y2": {"datum": 410.54}}},
{"mark": {"type": "rect", "fill": "#dcdcdc", "stroke": "#555", "strokeWidth": 1}, "encoding": {"x": {"datum": 47.14, "axis": null}, "x2": {"datum": 49.70}, "y": {"datum": 421.56, "axis": null}, "y2": {"datum": 410.54}}},
{"mark": {"type": "text", "text": "xgraph", "font": "Liberation Sans", "fontWeight": "bold", "fontSize": 11, "color": "#ffffff", "align": "center", "baseline": "middle"}, "encoding": {"x": {"datum": 19.41, "axis": null}, "y": {"datum": 416.1, "axis": null}}},
{"mark": {"type": "text", "text": "✖", "font": "DejaVu Sans", "fontSize": 8, "color": "#000", "align": "center", "baseline": "middle"}, "encoding": {"x": {"datum": -5.112, "axis": null}, "y": {"datum": 416.1, "axis": null}}},
{"mark": {"type": "text", "text": "○", "font": "DejaVu Sans", "fontSize": 9, "color": "#000", "align": "center", "baseline": "middle"}, "encoding": {"x": {"datum": 43.67, "axis": null}, "y": {"datum": 416.1, "axis": null}}},
{"mark": {"type": "text", "text": "▼", "font": "DejaVu Sans", "fontSize": 8, "color": "#000", "align": "center", "baseline": "middle"}, "encoding": {"x": {"datum": 45.73, "axis": null}, "y": {"datum": 416.1, "axis": null}}},
{"mark": {"type": "text", "text": "◢", "font": "DejaVu Sans", "fontSize": 8, "color": "#000", "align": "center", "baseline": "middle"}, "encoding": {"x": {"datum": 48.45, "axis": null}, "y": {"datum": 416.1, "axis": null}}},
{"mark": {"type": "rect", "fill": "#c4c4c4", "stroke": "#222", "strokeWidth": 1.5}, "encoding": {"x": {"datum": -6.130, "axis": null}, "x2": {"datum": -3.005}, "y": {"datum": 408.59, "axis": null}, "y2": {"datum": 393.74}}},
{"mark": {"type": "rect", "fill": "#c4c4c4", "stroke": "#222", "strokeWidth": 1.5}, "encoding": {"x": {"datum": -2.787, "axis": null}, "x2": {"datum": 0.915}, "y": {"datum": 408.59, "axis": null}, "y2": {"datum": 393.74}}},
{"mark": {"type": "rect", "fill": "#c4c4c4", "stroke": "#222", "strokeWidth": 1.5}, "encoding": {"x": {"datum": 1.023, "axis": null}, "x2": {"datum": 4.246}, "y": {"datum": 408.59, "axis": null}, "y2": {"datum": 393.74}}},
{"mark": {"type": "text", "text": "Close", "fontSize": 10, "color": "#000", "align": "center", "baseline": "middle"}, "encoding": {"x": {"datum": -4.567, "axis": null}, "y": {"datum": 401.03, "axis": null}}},
{"mark": {"type": "text", "text": "Hdcpy", "fontSize": 10, "color": "#000", "align": "center", "baseline": "middle"}, "encoding": {"x": {"datum": -0.936, "axis": null}, "y": {"datum": 401.03, "axis": null}}},
{"mark": {"type": "text", "text": "About", "fontSize": 10, "color": "#000", "align": "center", "baseline": "middle"}, "encoding": {"x": {"datum": 2.635, "axis": null}, "y": {"datum": 401.03, "axis": null}}},
{"mark": {"type": "text", "text": "msec", "fontSize": 9, "color": "#000", "align": "left", "baseline": "middle"}, "encoding": {"x": {"datum": -6.130, "axis": null}, "y": {"datum": 385.57, "axis": null}}},
{"mark": {"type": "text", "text": "cbq", "font": "Liberation Sans", "fontSize": 17, "color": "#000", "align": "center", "baseline": "alphabetic"}, "encoding": {"x": {"datum": 45.23, "axis": null}, "y": {"datum": 390.8, "axis": null}}},
{"mark": {"type": "text", "text": "time x 10", "fontSize": 10, "color": "#000", "align": "right", "baseline": "middle"}, "encoding": {"x": {"datum": 48.884, "axis": null}, "y": {"datum": -14.97, "axis": null}}},
{"mark": {"type": "text", "text": "3", "fontSize": 8, "color": "#000", "align": "left", "baseline": "middle"}, "encoding": {"x": {"datum": 49.01, "axis": null}, "y": {"datum": -10.40, "axis": null}}},
{"mark": {"type": "rect", "fill": "#ebebeb", "stroke": "#808080", "strokeWidth": 1}, "encoding": {"x": {"datum": -4.714, "axis": null}, "x2": {"datum": 47.76}, "y": {"datum": -31.79, "axis": null}, "y2": {"datum": -35.68}}},
{"mark": {"type": "rect", "fill": "#c4c4c4", "stroke": "#808080", "strokeWidth": 1}, "encoding": {"x": {"datum": 47.80, "axis": null}, "x2": {"datum": 49.56}, "y": {"datum": -31.79, "axis": null}, "y2": {"datum": -35.68}}},
{"mark": {"type": "rect", "fill": "#000", "fillOpacity": 0, "stroke": "#333", "strokeWidth": 1, "strokeDash": [1, 2]},
 "encoding": {"x": {"datum": -1.992, "axis": {"orient": "top", "title": null, "labels": false, "domain": false, "grid": false, "values": [0, 5, 10, 15, 20, 25, 30, 35, 40], "tickSize": -3, "tickColor": "#333", "zindex": 1}}, "x2": {"datum": 41.742}, "y": {"datum": -17.21, "axis": null}, "y2": {"datum": 370.21}}},
{"data": {"name": "a"},
 "transform": [{"fold": ["packet_delay1", "packet_delay2", "packet_delay3", "packet_delay4"], "as": ["key", "delay"]}],
 "mark": {"type": "line", "strokeWidth": 1},
 "encoding": {
  "x": {"field": "t", "type": "quantitative", "scale": {"domain": [-1.992, 41.742], "nice": false, "zero": false},
   "axis": {"orient": "bottom", "title": null, "values": [0, 5, 10, 15, 20, 25, 30, 35, 40], "format": ".4f", "domain": false, "grid": false, "tickSize": -3, "tickColor": "#333", "labelPadding": 8, "labelFontSize": 9, "labelColor": "#111", "labelFlush": false, "labelOverlap": false, "zindex": 1}},
  "y": {"field": "delay", "type": "quantitative", "scale": {"domain": [-17.21, 370.21], "nice": false, "zero": false},
   "axis": {"orient": "left", "title": null, "values": [0, 20, 40, 60, 80, 100, 120, 140, 160, 180, 200, 220, 240, 260, 280, 300, 320, 340, 360], "format": ".4f", "domain": false, "grid": false, "tickSize": -3, "tickColor": "#333", "labelPadding": 6, "labelFontSize": 9, "labelColor": "#111", "labelFlush": false, "labelOverlap": false, "zindex": 1}},
  "color": {"field": "key", "type": "nominal", "scale": {"domain": ["packet_delay1", "packet_delay2", "packet_delay3", "packet_delay4"], "range": ["#ff0000", "#00ff7f", "#0000ff", "#ffff00"]},
   "legend": {"orient": "right", "offset": -10, "padding": 2, "title": null, "symbolType": "M5,-5.5L77,-5.5", "symbolSize": 4, "symbolStrokeWidth": 1.5, "labelOffset": 0, "labelFontSize": 9, "labelColor": "#111", "rowPadding": 0.5, "zindex": 1}}
 }}
]
},
{
"width": 396.7, "height": 391.6,
"data": {"values": [{}]},
"title": {"text": "(b)", "orient": "bottom", "frame": "group", "anchor": "middle", "offset": 11.5, "dx": 14, "font": "Liberation Serif", "fontSize": 21, "fontWeight": "normal", "color": "#000"},
"resolve": {"axis": {"x": "independent", "y": "independent"}},
"layer": [
{"mark": {"type": "rect", "fill": "#c4c4c4", "stroke": "#000", "strokeWidth": 1},
 "encoding": {"x": {"datum": -6.637, "type": "quantitative", "scale": {"domain": [-1.958, 41.925], "nice": false, "zero": false}, "axis": null}, "x2": {"datum": 49.23},
  "y": {"datum": 425.19, "type": "quantitative", "scale": {"domain": [-17.44, 370.5], "nice": false, "zero": false}, "axis": null}, "y2": {"datum": -37.45}}},
{"mark": {"type": "rect", "fill": "#5f7fb5"}, "encoding": {"x": {"datum": -3.562, "axis": null}, "x2": {"datum": 42.81}, "y": {"datum": 422.02, "axis": null}, "y2": {"datum": 410.82}}},
{"mark": {"type": "rect", "fill": "#dcdcdc", "stroke": "#555", "strokeWidth": 1}, "encoding": {"x": {"datum": -6.162, "axis": null}, "x2": {"datum": -3.75}, "y": {"datum": 422.02, "axis": null}, "y2": {"datum": 410.82}}},
{"mark": {"type": "rect", "fill": "#dcdcdc", "stroke": "#555", "strokeWidth": 1}, "encoding": {"x": {"datum": 42.92, "axis": null}, "x2": {"datum": 44.41}, "y": {"datum": 422.02, "axis": null}, "y2": {"datum": 410.82}}},
{"mark": {"type": "rect", "fill": "#dcdcdc", "stroke": "#555", "strokeWidth": 1}, "encoding": {"x": {"datum": 44.56, "axis": null}, "x2": {"datum": 46.73}, "y": {"datum": 422.02, "axis": null}, "y2": {"datum": 410.82}}},
{"mark": {"type": "rect", "fill": "#dcdcdc", "stroke": "#555", "strokeWidth": 1}, "encoding": {"x": {"datum": 46.90, "axis": null}, "x2": {"datum": 49.23}, "y": {"datum": 422.02, "axis": null}, "y2": {"datum": 410.82}}},
{"mark": {"type": "text", "text": "xgraph", "font": "Liberation Sans", "fontWeight": "bold", "fontSize": 11, "color": "#ffffff", "align": "center", "baseline": "middle"}, "encoding": {"x": {"datum": 19.49, "axis": null}, "y": {"datum": 416.45, "axis": null}}},
{"mark": {"type": "text", "text": "✖", "font": "DejaVu Sans", "fontSize": 8, "color": "#000", "align": "center", "baseline": "middle"}, "encoding": {"x": {"datum": -4.956, "axis": null}, "y": {"datum": 416.45, "axis": null}}},
{"mark": {"type": "text", "text": "○", "font": "DejaVu Sans", "fontSize": 9, "color": "#000", "align": "center", "baseline": "middle"}, "encoding": {"x": {"datum": 43.67, "axis": null}, "y": {"datum": 416.45, "axis": null}}},
{"mark": {"type": "text", "text": "▼", "font": "DejaVu Sans", "fontSize": 8, "color": "#000", "align": "center", "baseline": "middle"}, "encoding": {"x": {"datum": 45.64, "axis": null}, "y": {"datum": 416.45, "axis": null}}},
{"mark": {"type": "text", "text": "◢", "font": "DejaVu Sans", "fontSize": 8, "color": "#000", "align": "center", "baseline": "middle"}, "encoding": {"x": {"datum": 48.06, "axis": null}, "y": {"datum": 416.45, "axis": null}}},
{"mark": {"type": "rect", "fill": "#c4c4c4", "stroke": "#222", "strokeWidth": 1.5}, "encoding": {"x": {"datum": -6.162, "axis": null}, "x2": {"datum": -3.186}, "y": {"datum": 408.64, "axis": null}, "y2": {"datum": 393.29}}},
{"mark": {"type": "rect", "fill": "#c4c4c4", "stroke": "#222", "strokeWidth": 1.5}, "encoding": {"x": {"datum": -2.743, "axis": null}, "x2": {"datum": 0.796}, "y": {"datum": 408.64, "axis": null}, "y2": {"datum": 393.29}}},
{"mark": {"type": "rect", "fill": "#c4c4c4", "stroke": "#222", "strokeWidth": 1.5}, "encoding": {"x": {"datum": 1.095, "axis": null}, "x2": {"datum": 4.369}, "y": {"datum": 408.64, "axis": null}, "y2": {"datum": 393.29}}},
{"mark": {"type": "text", "text": "Close", "fontSize": 10, "color": "#000", "align": "center", "baseline": "middle"}, "encoding": {"x": {"datum": -4.674, "axis": null}, "y": {"datum": 400.91, "axis": null}}},
{"mark": {"type": "text", "text": "Hdcpy", "fontSize": 10, "color": "#000", "align": "center", "baseline": "middle"}, "encoding": {"x": {"datum": -0.973, "axis": null}, "y": {"datum": 400.91, "axis": null}}},
{"mark": {"type": "text", "text": "About", "fontSize": 10, "color": "#000", "align": "center", "baseline": "middle"}, "encoding": {"x": {"datum": 2.732, "axis": null}, "y": {"datum": 400.91, "axis": null}}},
{"mark": {"type": "text", "text": "msec", "fontSize": 9, "color": "#000", "align": "left", "baseline": "middle"}, "encoding": {"x": {"datum": -6.162, "axis": null}, "y": {"datum": 385.07, "axis": null}}},
{"mark": {"type": "text", "text": "cbq", "font": "Liberation Sans", "fontSize": 17, "color": "#000", "align": "center", "baseline": "alphabetic"}, "encoding": {"x": {"datum": 45.42, "axis": null}, "y": {"datum": 390.0, "axis": null}}},
{"mark": {"type": "text", "text": "time x 10", "fontSize": 10, "color": "#000", "align": "right", "baseline": "middle"}, "encoding": {"x": {"datum": 43.58, "axis": null}, "y": {"datum": -18.82, "axis": null}}},
{"mark": {"type": "text", "text": "3", "fontSize": 8, "color": "#000", "align": "left", "baseline": "middle"}, "encoding": {"x": {"datum": 43.73, "axis": null}, "y": {"datum": -14.17, "axis": null}}},
{"mark": {"type": "rect", "fill": "#ebebeb", "stroke": "#808080", "strokeWidth": 1}, "encoding": {"x": {"datum": -4.679, "axis": null}, "x2": {"datum": 47.46}, "y": {"datum": -32.30, "axis": null}, "y2": {"datum": -35.96}}},
{"mark": {"type": "rect", "fill": "#c4c4c4", "stroke": "#808080", "strokeWidth": 1}, "encoding": {"x": {"datum": 47.95, "axis": null}, "x2": {"datum": 49.10}, "y": {"datum": -32.30, "axis": null}, "y2": {"datum": -35.96}}},
{"mark": {"type": "rect", "fill": "#000", "fillOpacity": 0, "stroke": "#333", "strokeWidth": 1, "strokeDash": [1, 2]},
 "encoding": {"x": {"datum": -1.958, "axis": {"orient": "top", "title": null, "labels": false, "domain": false, "grid": false, "values": [0, 5, 10, 15, 20, 25, 30, 35, 40], "tickSize": -3, "tickColor": "#333", "zindex": 1}}, "x2": {"datum": 41.925}, "y": {"datum": -17.44, "axis": null}, "y2": {"datum": 370.5}}},
{"data": {"name": "b"},
 "transform": [{"fold": ["packet_delay1", "packet_delay2", "packet_delay3", "packet_delay4"], "as": ["key", "delay"]}],
 "mark": {"type": "line", "strokeWidth": 1},
 "encoding": {
  "x": {"field": "t", "type": "quantitative", "scale": {"domain": [-1.958, 41.925], "nice": false, "zero": false},
   "axis": {"orient": "bottom", "title": null, "values": [0, 5, 10, 15, 20, 25, 30, 35, 40], "format": ".4f", "domain": false, "grid": false, "tickSize": -3, "tickColor": "#333", "labelPadding": 8, "labelFontSize": 9, "labelColor": "#111", "labelFlush": false, "labelOverlap": false, "zindex": 1}},
  "y": {"field": "delay", "type": "quantitative", "scale": {"domain": [-17.44, 370.5], "nice": false, "zero": false},
   "axis": {"orient": "left", "title": null, "values": [0, 20, 40, 60, 80, 100, 120, 140, 160, 180, 200, 220, 240, 260, 280, 300, 320, 340, 360], "format": ".4f", "domain": false, "grid": false, "tickSize": -3, "tickColor": "#333", "labelPadding": 4.5, "labelFontSize": 9, "labelColor": "#111", "labelFlush": false, "labelOverlap": false, "zindex": 1}},
  "color": {"field": "key", "type": "nominal", "scale": {"domain": ["packet_delay1", "packet_delay2", "packet_delay3", "packet_delay4"], "range": ["#ff0000", "#00ff7f", "#0000ff", "#ffff00"]},
   "legend": {"orient": "right", "offset": -10, "padding": 2, "title": null, "symbolType": "M6,-5.5L70,-5.5", "symbolSize": 4, "symbolStrokeWidth": 1.5, "labelOffset": 0, "labelFontSize": 9, "labelColor": "#111", "rowPadding": 0.5, "zindex": 1}}
 }}
]
}
]
}
